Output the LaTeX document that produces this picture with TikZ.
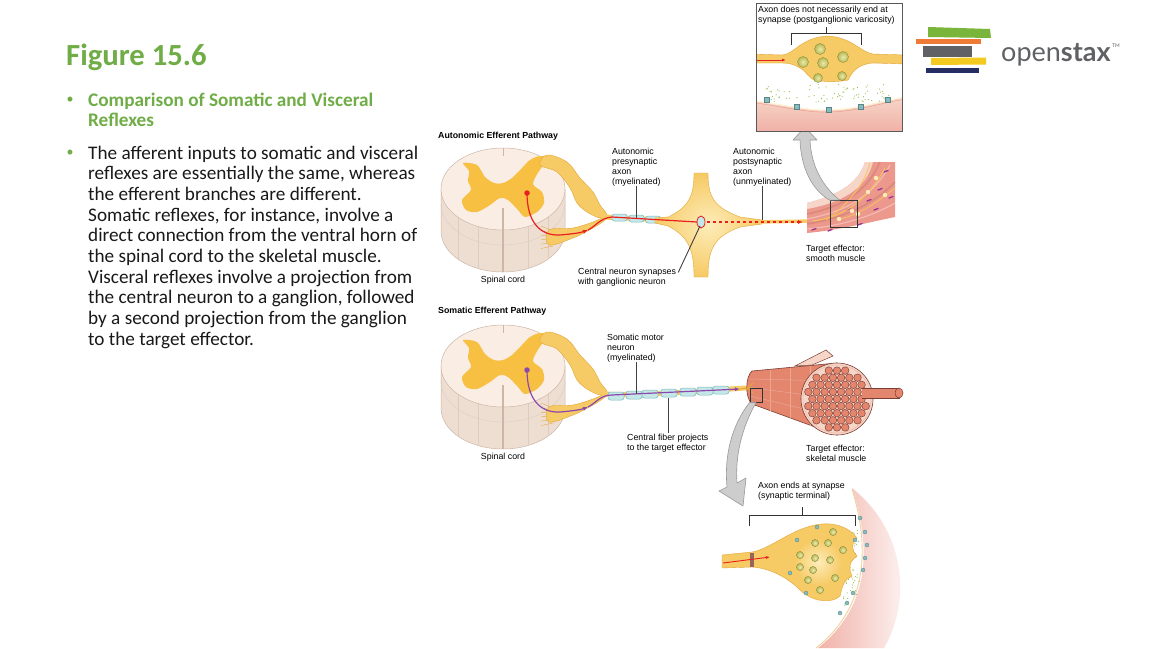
\documentclass[tikz,border=0pt]{standalone}
\usepackage{fontspec}
\setmainfont{Carlito}
\setsansfont{Liberation Sans}
\newfontfamily\logofont{Lato}
\usepackage{xcolor}
\definecolor{slidegreen}{RGB}{112,173,71}
\definecolor{cordpink}{RGB}{249,237,228}
\definecolor{cordside}{RGB}{238,222,210}
\definecolor{cordline}{RGB}{205,182,166}
\definecolor{graymatter}{RGB}{247,192,66}
\definecolor{nerveyellow}{RGB}{246,202,100}
\definecolor{nervelight}{RGB}{253,236,185}
\definecolor{nerveline}{RGB}{228,165,55}
\definecolor{myelin}{RGB}{198,231,232}
\definecolor{myelinline}{RGB}{122,186,190}
\definecolor{axonred}{RGB}{232,32,32}
\definecolor{axonpurple}{RGB}{140,72,172}
\definecolor{musclered}{RGB}{228,134,110}
\definecolor{musclelight}{RGB}{246,214,200}
\definecolor{muscledark}{RGB}{122,62,50}
\definecolor{smoothpink}{RGB}{236,152,140}
\definecolor{arrowgray}{RGB}{205,205,205}
\definecolor{vesicle}{RGB}{182,186,84}
\definecolor{vesiclelight}{RGB}{238,232,170}
\definecolor{receptor}{RGB}{132,188,192}
\definecolor{dotgreen}{RGB}{150,190,80}
\definecolor{osgreen}{RGB}{120,181,58}
\definecolor{osorange}{RGB}{238,122,54}
\definecolor{osgray}{RGB}{95,97,100}
\definecolor{osyellow}{RGB}{242,202,32}
\definecolor{osnavy}{RGB}{36,46,98}
\usepackage{tikz}
\usetikzlibrary{arrows.meta,positioning}

\newcommand\lblfont{\sffamily\fontsize{8.8}{10}\selectfont}

\tikzset{
  spinalcord/.pic={
    \path[fill=cordside,draw=cordline,line width=0.5] (-62,-4) -- (-62,38) arc[start angle=180,end angle=0,x radius=62,y radius=41] -- (62,-4) -- cycle;
    \draw[cordline!70,line width=0.4] (-62,11) arc[start angle=180,end angle=0,x radius=62,y radius=41];
    \foreach \sx/\st/\sb in {-45/24.2/66.2,-25/33.5/75.5,25/33.5/75.5,45/24.2/66.2}
      \draw[cordline!70,line width=0.4] (\sx,\st) -- (\sx,\sb);
    \path[fill=cordpink,draw=cordline,line width=0.5] (0,-4) ellipse[x radius=62,y radius=41];
    \fill[graymatter] plot[smooth cycle,tension=0.5] coordinates {(-40,-30) (-26,-28) (-18,-16) (-9,-10) (0,-10) (9,-15) (19,-25) (27,-33) (37,-37) (45,-34) (36,-22) (30,-9) (39,-1) (41,10) (34,19) (22,24) (15,17) (5,7) (-3,5) (-13,12) (-26,19) (-37,17) (-41,7) (-32,-3) (-35,-12) (-34,-22)};
    \draw[cordline,line width=1.6] (0,15) -- (0,79);
    \draw[cordline,line width=0.8] (0,-45) -- (0,-37);
    \foreach \k in {0,...,5}
      \draw[nerveline,line width=0.35] (50,38+3*\k) -- (38,33+4.5*\k);
    \path[nerve] plot[smooth cycle,tension=0.6] coordinates {(44,-38) (64,-31) (77,-15) (90,-1) (97,12) (104,22) (97,25) (84,19) (74,10) (67,-5) (54,-21) (37,-28)};
    \path[nerve] plot[smooth cycle,tension=0.6] coordinates {(46,37) (70,35) (90,29) (104,23) (102,27) (90,35) (70,45) (46,52)};
    \coordinate (-base) at (0,79);
  }
}

\begin{document}
\begin{tikzpicture}[x=1pt,y=-1pt,
    lbl/.style={font=\lblfont,align=left,inner sep=0,anchor=base west},
    lblc/.style={font=\lblfont,inner sep=0,anchor=north},
    leader/.style={draw=black!75,line width=0.9},
    nerve/.style={fill=nerveyellow,draw=nerveline,line width=0.4},
    nerveband/.style={draw=nerveyellow,line width=#1,line cap=round},
    nerveband/.default=5,
    myelinseg/.style={draw=myelinline,fill=myelin,rounded corners=2.5,line width=0.5},
    bigarrow/.style={fill=arrowgray,draw=gray!80,line width=0.6,line join=round},
    vesic/.style={inner color=vesiclelight,outer color=vesicle,draw=vesicle!70!black,line width=0.3},
    fibre/.style={fill=musclered,draw=muscledark,line width=0.45},
    bracket/.style={draw=black!80,line width=0.9},
    recep/.style={fill=receptor,draw=receptor!70!black,line width=0.3},
    zoombox/.style={draw=black!80,line width=0.8,inner sep=0},
    slide/.style={inner sep=0,anchor=base west,align=left},
  ]
  \fill[white] (0,0) rectangle (1153,648);
  \useasboundingbox (0,0) rectangle (1153,648);

  \node[slide,text=slidegreen,font=\fontsize{30.7}{30.7}\selectfont\bfseries] (title) at (66,65) {Figure 15.6};
  \node[text=slidegreen,inner sep=0,font=\fontsize{14}{14}\selectfont] (bull1) at (70,100) {•};
  \node[slide,text=slidegreen,font=\fontsize{19.2}{20}\selectfont\bfseries] (cmp) at (88,126.5) {Comparison of Somatic and Visceral\\Reflexes};
  \node[text=slidegreen,inner sep=0,font=\fontsize{14}{14}\selectfont] (bull2) at (70,153) {•};
  \node[slide,text=black!90,font=\fontsize{19.2}{20.63}\selectfont] (desc) at (88,345) {The afferent inputs to somatic and visceral\\reflexes are essentially the same, whereas\\the efferent branches are different.\\Somatic reflexes, for instance, involve a\\direct connection from the ventral horn of\\the spinal cord to the skeletal muscle.\\Visceral reflexes involve a projection from\\the central neuron to a ganglion, followed\\by a second projection from the ganglion\\to the target effector.};

  \fill[osgreen] (928,27) -- (990,29) -- (991,38) -- (928,37) -- cycle;
  \fill[osorange] (916,39) rectangle (981,44);
  \fill[osgray] (923,46) rectangle (972,57);
  \fill[osyellow] (931,58) -- (986,57.5) -- (986,64.5) -- (931,65) -- cycle;
  \fill[osnavy] (926,68) rectangle (979,73);
  \node[inner sep=0,anchor=base west,text=osgray,font=\logofont\fontsize{27}{27}\selectfont] (oslogo) at (1001,61) {open\textbf{stax}};
  \node[inner sep=0,anchor=north west,text=osgray,font=\logofont\fontsize{5}{5}\selectfont] (ostm) at ([xshift=1pt,yshift=-1pt]oslogo.north east) {TM};

  \node[lbl,font=\lblfont\bfseries] (ahead) at (438,138) {Autonomic Efferent Pathway};
  \pic (acord) at (503,193) {spinalcord};
  \node[lblc] (acordlbl) [below=4pt of acord-base] {Spinal cord};

  \draw[nerveband] (604,217) .. controls (625,218) and (640,219) .. (664,220);
  \foreach \mx/\my in {619.5/217.5,636.5/218.5,653/219.5}
    \draw[myelinseg] (\mx-7.5,\my-3.5) rectangle (\mx+7.5,\my+3.5);
  \shade[inner color=nervelight,outer color=nerveyellow,draw=nerveline,line width=0.4] (694,173) -- (708,173) .. controls (708,196) and (713,207) .. (740,217) -- (762,220) -- (762,224) -- (740,227) .. controls (713,237) and (708,250) .. (708,277) -- (694,277) .. controls (694,250) and (689,237) .. (668,226) -- (655,223) -- (655,218) -- (668,217) .. controls (689,207) and (694,196) .. (694,173) -- cycle;
  \draw[nerveband=3.5] (755,222) -- (815,221);

  \path[fill=smoothpink] (807,203) .. controls (835,196) and (858,185) .. (865,162) -- (895,162) -- (895,217) .. controls (870,222) and (840,230) .. (807,233) -- cycle;
  \path[fill=musclelight] (807,203) .. controls (835,196) and (858,185) .. (865,162) -- (873,162) .. controls (866,190) and (840,203) .. (807,209) -- cycle;
  \draw[musclered!80!black,line width=1.6,opacity=0.35] (807,214) .. controls (840,207) and (865,195) .. (880,162);
  \draw[white,line width=1.2,opacity=0.35] (807,219) .. controls (843,212) and (872,198) .. (890,165);
  \draw[musclered!80!black,line width=1.6,opacity=0.35] (807,224) .. controls (845,218) and (875,203) .. (895,182);
  \draw[white,line width=1.2,opacity=0.35] (807,229) .. controls (850,225) and (880,212) .. (895,203);
  \foreach \px/\py in {812/230,828/231,858/225,874/210,884/172,878/190,846/210,867/201,889/198}
    \draw[violet!80,line width=1.3,line cap=round] (\px,\py) -- ++(4,-1.5);
  \draw[nerveyellow!90!orange,line width=1] (812,221) .. controls (840,218) and (866,203) .. (885,168);
  \draw[nerveyellow!90!orange,line width=0.8] (826,220) .. controls (846,206) and (864,186) .. (870,163);
  \draw[nerveyellow!90!orange,line width=0.8] (840,219) .. controls (862,214) and (880,200) .. (895,188);
  \foreach \px/\py in {852/211,868/192,876/178,839/219,858/214,885/195}
    \fill[nervelight] (\px,\py) circle[radius=2.2];
  \node[zoombox,minimum width=27,minimum height=27] (smbox) at (843.5,214) {};

  \coordinate (asyn) at (701,222);
  \coordinate (aend) at (803,222);
  \node[circle,fill=axonred,inner sep=0,minimum size=5.5] (adot) at (527,193) {};
  \draw[axonred,line width=1.2,-{Latex[length=5pt,width=4pt]}] (adot.center) .. controls (527,222) and (540,236) .. (560,235) .. controls (571,234) and (580,233) .. (588,230);
  \draw[axonred,line width=1.2] (588,230) .. controls (596,226) and (600,218) .. (612,217) -- (697,222);
  \draw[axonred,line width=0.8,fill=myelin] (asyn) ellipse[x radius=4,y radius=6];
  \draw[axonred,line width=1.2,dashed,shorten <=6pt,-{Latex[length=5pt,width=4pt]}] (asyn) -- (aend);

  \path[bigarrow] (smbox.north west) .. controls (812,190) and (801,168) .. (800,140) -- (793,140) -- (805,127) -- (817,140) -- (810,140) .. controls (811,165) and (822,186) .. ([xshift=10pt]smbox.north west) -- cycle;

  \node[lbl] (apre) at (612,184) {Autonomic\\presynaptic\\axon\\(myelinated)};
  \node[lbl] (apost) at (733,184) {Autonomic\\postsynaptic\\axon\\(unmyelinated)};
  \node[lbl] (acentral) at (578,284) {Central neuron synapses\\with ganglionic neuron};
  \node[lbl] (asmooth) at (806,261) {Target effector:\\smooth muscle};
  \coordinate (apreax) at (636,218);
  \coordinate (apostax) at (762,220);
  \draw[leader] (apreax |- apre.south) -- (apreax);
  \draw[leader] (apostax |- apost.south) -- (apostax);
  \draw[leader] ([shift={(2,5)}]acentral.north east) -- ([shift={(-1,4)}]asyn);

  \begin{scope}
    \clip (756,3) rectangle (902,131);
    \fill[white] (756,3) rectangle (902,131);
    \shade[top color=musclelight,bottom color=smoothpink!80!white] (750,100) .. controls (790,106) and (810,111) .. (830,110) .. controls (860,109) and (880,101) .. (906,97) -- (906,135) -- (750,135) -- cycle;
    \draw[nervelight!60!white,line width=1.2] (750,100) .. controls (790,106) and (810,111) .. (830,110) .. controls (860,109) and (880,101) .. (906,97);
    \draw[smoothpink,line width=0.4] (750,102) .. controls (790,108) and (810,113) .. (830,112) .. controls (860,111) and (880,103) .. (906,99);
    \pgfmathsetseed{3}
    \foreach \k in {1,...,80} {
      \pgfmathsetmacro\tx{766+128*rnd}
      \pgfmathsetmacro\ty{84+18*rnd}
      \fill[dotgreen] (\tx,\ty) circle[radius=0.6];
    }
    \path[nerve] (750,54) -- (782,55) .. controls (795,54) and (800,38) .. (827,36) .. controls (852,37) and (860,52) .. (873,54) -- (906,55) -- (906,64) -- (873,63) .. controls (858,64) and (852,72) .. (848,80) .. controls (838,82) and (828,82) .. (822,81) .. controls (812,83) and (808,74) .. (803,70) .. controls (797,66) and (792,63) .. (782,63) -- (750,63) -- cycle;
    \foreach \vx/\vy in {820/49,803/62,823/63,843/57}
      \draw[vesic] (\vx,\vy) circle[radius=5.5];
    \foreach \vx/\vy in {818/78,842/76}
      \draw[vesic] (\vx,\vy) circle[radius=4.5];
    \draw[axonred,line width=0.9,-{Latex[length=4pt,width=3pt]}] (756,60) -- (786,60);
    \foreach \rx/\ry in {767/100,797/107,829/110,861/107,888/100}
      \draw[recep] (\rx-2.5,\ry-2.5) rectangle (\rx+2.5,\ry+2.5);
  \end{scope}
  \node[draw=gray!70!black,line width=0.8,minimum width=146,minimum height=128,inner sep=0] (vinset) at (829,67) {};
  \node[lbl] (vtext) at (758,22) {Axon does not necessarily end at\\synapse (postganglionic varicosity)};
  \draw[bracket] (791,45) -- (791,33) -- (861,33) -- (861,45) (826,33) -- (826,27);

  \node[lbl,font=\lblfont\bfseries] (shead) at (438,313) {Somatic Efferent Pathway};
  \pic (scord) at (503,370) {spinalcord};
  \node[lblc] (scordlbl) [below=4pt of scord-base] {Spinal cord};

  \draw[nerveband] (604,394) .. controls (640,396) and (700,391) .. (745,388);
  \foreach \mx/\my in {616/396,634/395,650/394,669/393,688/392,705/391,721/390}
    \draw[myelinseg] (\mx-8,\my-4) rectangle (\mx+8,\my+4);

  \path[fill=musclered,draw=muscledark,line width=0.6] (752,371) -- (837,363) -- (837,435) -- (752,404) .. controls (745,398) and (745,377) .. (752,371) -- cycle;
  \foreach \la/\ra in {379/381,387.5/399,396/417}
    \draw[musclelight!40!musclered,line width=0.5] (750,\la) -- (837,\ra);
  \foreach \vx/\vt/\vb in {770/369.8/410.8,790/367.9/418.3,810/366.1/425.8}
    \draw[musclelight!40!musclered,line width=0.4] (\vx,\vt) -- (\vx,\vb);
  \path[fill=musclelight,draw=muscledark,line width=0.5] (795,366) -- (826,350) -- (833,356) -- (812,365) -- cycle;
  \path[fill=musclelight,draw=muscledark,line width=0.6] (837,399) circle[radius=36];
  \draw[musclered!60,line width=0.5] (837,399) circle[radius=34];
  \foreach \i in {-4,...,4} {
    \foreach \j in {-4,...,4} {
      \pgfmathsetmacro\fx{837+8.2*\i+4.1*mod(\j+10,2)}
      \pgfmathsetmacro\fy{399+7.1*\j}
      \pgfmathtruncatemacro\fin{veclen(\fx-837,\fy-399)<30.5}
      \ifnum\fin=1 \draw[fibre] (\fx,\fy) circle[radius=3.8]; \fi
    }
  }
  \path[fill=musclered,draw=muscledark,line width=0.5] (862,388) -- (899,388) -- (899,398) -- (862,398);
  \path[fill=musclered,draw=muscledark,line width=0.5] (899,393) ellipse[x radius=4,y radius=5];
  \draw[nerveline,line width=1] (740,389) -- (747,388) -- (753,383) (747,388) -- (753,393) (747,388) -- (754,388);
  \node[zoombox,minimum width=12,minimum height=14] (skbox) at (756,395) {};

  \node[circle,fill=axonpurple,inner sep=0,minimum size=5.5] (sdot) at (527,370) {};
  \coordinate (send) at (740,389);
  \draw[axonpurple,line width=1.2,-{Latex[length=5pt,width=4pt]}] (sdot.center) .. controls (527,399) and (540,413) .. (560,412) .. controls (571,411) and (580,410) .. (588,407);
  \draw[axonpurple,line width=1.2,-{Latex[length=5pt,width=4pt]}] (588,407) .. controls (596,403) and (600,395) .. (612,395) -- (send);

  \node[lbl] (smotor) at (607,360) {Somatic motor\\neuron\\(myelinated)};
  \node[lbl] (sfiber) at (627,450) {Central fiber projects\\to the target effector};
  \node[lbl] (sskel) at (806,461) {Target effector:\\skeletal muscle};
  \coordinate (smotorax) at (636,394);
  \coordinate (sfiberax) at (668,398);
  \draw[leader] (smotorax |- smotor.south) -- (smotorax);
  \draw[leader] (sfiberax |- sfiber.north) -- (sfiberax);

  \path[bigarrow] (skbox.south west) .. controls (732,425) and (724,455) .. (727,487) -- (719,491) -- (743,506) -- (746,478) -- (737,483) .. controls (735,455) and (742,428) .. (skbox.south) -- cycle;

  \node[lbl] (stext) at (758,498) {Axon ends at synapse\\(synaptic terminal)};
  \draw[bracket] (749,526) -- (749,515) -- (855,515) -- (855,526) (802,515) -- (802,507);
  \shade[left color=smoothpink!75!white,middle color=smoothpink!85!white,right color=white!92!smoothpink] (852,488) .. controls (874,555) and (866,610) .. (818,648) -- (884,648) .. controls (912,600) and (905,530) .. (852,488) -- cycle;
  \draw[nerveline!50,line width=0.9] (852,489) .. controls (872,555) and (864,610) .. (816,648);
  \pgfmathsetseed{11}
  \foreach \k in {1,...,60} {
    \pgfmathsetmacro\ty{530+78*rnd}
    \pgfmathsetmacro\tx{846+14*rnd-0.25*max(\ty-585,0)}
    \fill[dotgreen] (\tx,\ty) circle[radius=0.6];
  }
  \path[nerve] (722,555) -- (752,552) .. controls (770,549) and (790,530) .. (815,525) .. controls (835,521) and (850,528) .. (857,538) .. controls (850,545) and (852,550) .. (857,556) .. controls (848,562) and (849,570) .. (852,576) .. controls (843,580) and (842,588) .. (840,596) .. controls (832,604) and (812,602) .. (800,590) .. controls (788,578) and (770,568) .. (752,567) -- (722,568) -- cycle;
  \shade[inner color=nervelight,outer color=nerveyellow] (818,562) circle[radius=24];
  \fill[muscledark!80] (750,553) rectangle (754,567);
  \foreach \vx/\vy in {833/532,815/543,828/543,843/550,800/555,815/558,830/560,800/567,813/570,835/578,808/580,820/590}
    \draw[vesic] (\vx,\vy) circle[radius=3.6];
  \draw[axonred,line width=0.9,-{Latex[length=4pt,width=3pt]}] (723,563) -- (770,557);
  \foreach \rx/\ry in {817/527,797/540,790/573,806/593,855/540,860/518,865/532,867/545,865/558,863/570,853/593,847/603,840/613}
    \draw[recep] (\rx,\ry) circle[radius=2];
\end{tikzpicture}
\end{document}
